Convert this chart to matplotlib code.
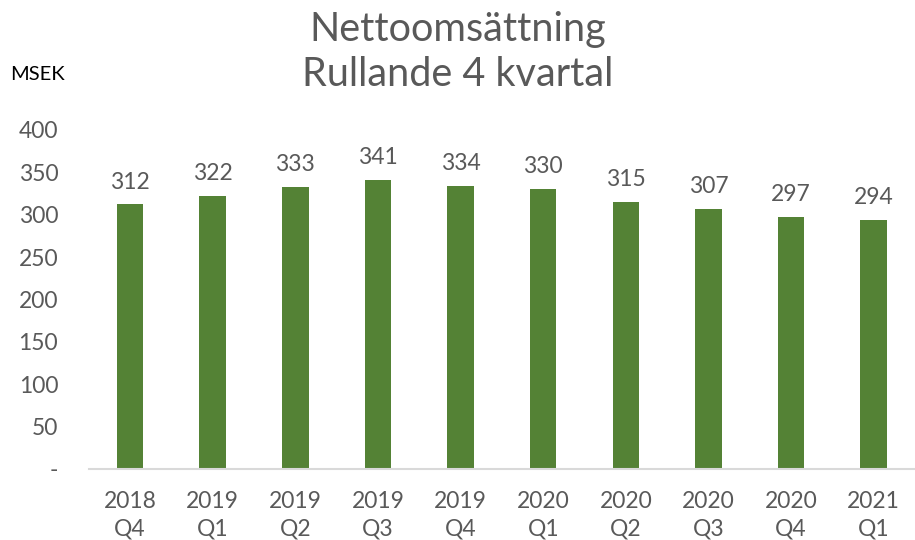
"""Nettoomsättning, rullande 4 kvartal (bar chart)."""

import matplotlib
matplotlib.use("Agg")
import matplotlib.pyplot as plt

quarters = ["2018\nQ4", "2019\nQ1", "2019\nQ2", "2019\nQ3", "2019\nQ4",
            "2020\nQ1", "2020\nQ2", "2020\nQ3", "2020\nQ4", "2021\nQ1"]
sales = [312, 322, 333, 341, 334, 330, 315, 307, 297, 294]
y_ticks = [0, 50, 100, 150, 200, 250, 300, 350, 400]
y_labels = ["-", "50", "100", "150", "200", "250", "300", "350", "400"]

GREEN = "#548235"
GREY = "#595959"

plt.rcParams["font.family"] = ["Lato", "DejaVu Sans"]

fig = plt.figure(figsize=(9.15, 5.4), dpi=100)
ax = fig.add_axes([0.097, 0.1315, 0.903, 0.628])

x = range(len(sales))
ax.bar(x, sales, width=0.32, color=GREEN, zorder=2)
for xi, v in zip(x, sales):
    ax.text(xi, v + 14, str(v), ha="center", va="bottom", fontsize=16.5, color=GREY)

ax.set_xlim(-0.5, len(sales) - 0.5)
ax.set_ylim(0, 400)
ax.set_yticks(y_ticks)
ax.set_yticklabels(y_labels)
ax.set_xticks(list(x))
ax.set_xticklabels(quarters, linespacing=1.35)
ax.tick_params(axis="both", length=0, labelsize=16.5, labelcolor=GREY)
ax.tick_params(axis="y", pad=22)
ax.tick_params(axis="x", pad=16)

for side in ["top", "right", "left"]:
    ax.spines[side].set_visible(False)
ax.spines["bottom"].set_color("#d9d9d9")
ax.spines["bottom"].set_linewidth(1.5)

fig.text(0.5, 0.945, "Nettoomsättning", ha="center", va="center", fontsize=28.5, color=GREY)
fig.text(0.5, 0.862, "Rullande 4 kvartal", ha="center", va="center", fontsize=28.5, color=GREY)
fig.text(0.011, 0.862, "MSEK", ha="left", va="center", fontsize=14.5, color="black")

fig.savefig("out.png", dpi=100)
